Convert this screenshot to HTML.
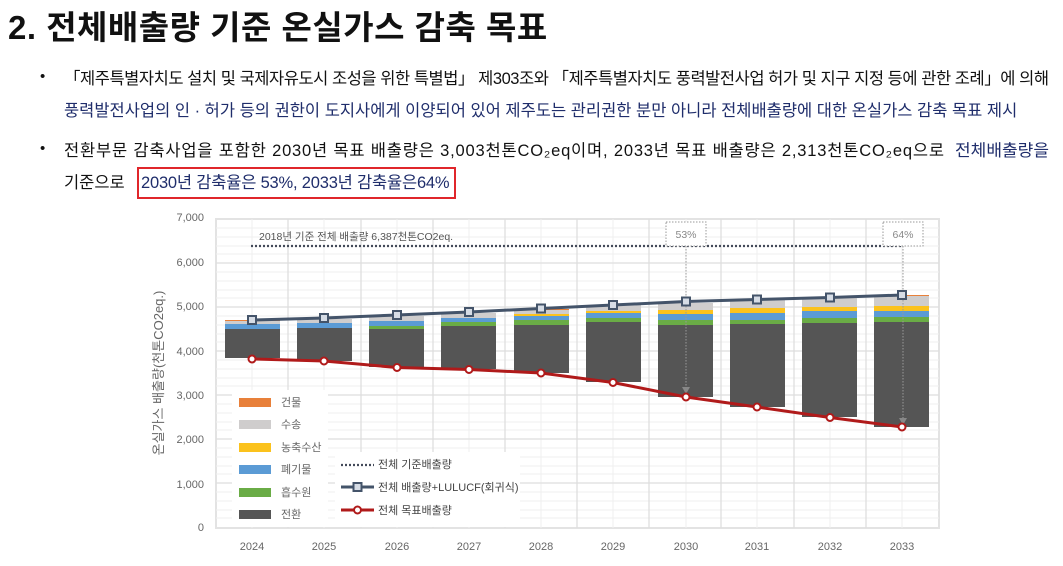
<!DOCTYPE html>
<html><head><meta charset="utf-8"><style>
html,body{margin:0;padding:0;background:#fff;}
body{width:1063px;height:566px;position:relative;overflow:hidden;font-family:"Liberation Sans","Noto Sans CJK KR",sans-serif;color:#111;}
.t{position:absolute;white-space:nowrap;}
.title{left:8px;top:1px;font-size:33px;font-weight:bold;color:#111;letter-spacing:0.5px;}
.l{font-size:16.5px;line-height:20px;}
.b{color:#1f2d6b;}
.dot{position:absolute;font-size:15px;}
</style></head><body>
<div class="t title">2. 전체배출량 기준 온실가스 감축 목표</div>
<div class="dot" style="left:40px;top:68px">•</div>
<div class="t l b" style="left:64px;top:101px">풍력발전사업의 인 · 허가 등의 권한이 도지사에게 이양되어 있어 제주도는 관리권한 분만 아니라 전체배출량에 대한 온실가스 감축 목표 제시</div>
<div class="dot" style="left:40px;top:140px">•</div>
<div class="t l" style="left:64px;top:173px">기준으로</div>
<div class="t l b" style="left:141px;top:173px;letter-spacing:-0.2px">2030년 감축율은 53%, 2033년 감축율은64%</div>
<div style="position:absolute;left:137px;top:167px;width:319px;height:32px;border:2px solid #e0262b;box-sizing:border-box"></div>

<svg width="1063" height="566" style="position:absolute;left:0;top:0" font-family="Liberation Sans, Noto Sans CJK KR, sans-serif">
<text x="64" y="84" font-size="16.5" fill="#111" textLength="985" lengthAdjust="spacing">「제주특별자치도 설치 및 국제자유도시 조성을 위한 특별법」 제303조와 「제주특별자치도 풍력발전사업 허가 및 지구 지정 등에 관한 조례」에 의해</text>
<text x="64" y="156" font-size="16.5" fill="#111" textLength="880" lengthAdjust="spacing">전환부문 감축사업을 포함한 2030년 목표 배출량은 3,003천톤CO₂eq이며, 2033년 목표 배출량은 2,313천톤CO₂eq으로</text>
<text x="955" y="156" font-size="16.5" fill="#1f2d6b" textLength="94" lengthAdjust="spacingAndGlyphs">전체배출량을</text>

<rect x="216" y="219" width="723" height="309" fill="#fff" stroke="#e3e3e3" stroke-width="2"/>
<g stroke="#efefef" stroke-width="1">
<line x1="216" x2="939" y1="228" y2="228"/><line x1="216" x2="939" y1="237" y2="237"/><line x1="216" x2="939" y1="246" y2="246"/><line x1="216" x2="939" y1="254" y2="254"/>
<line x1="216" x2="939" y1="272" y2="272"/><line x1="216" x2="939" y1="281" y2="281"/><line x1="216" x2="939" y1="290" y2="290"/><line x1="216" x2="939" y1="298" y2="298"/>
<line x1="216" x2="939" y1="316" y2="316"/><line x1="216" x2="939" y1="325" y2="325"/><line x1="216" x2="939" y1="334" y2="334"/><line x1="216" x2="939" y1="342" y2="342"/>
<line x1="216" x2="939" y1="360" y2="360"/><line x1="216" x2="939" y1="369" y2="369"/><line x1="216" x2="939" y1="378" y2="378"/><line x1="216" x2="939" y1="386" y2="386"/>
<line x1="216" x2="939" y1="404" y2="404"/><line x1="216" x2="939" y1="413" y2="413"/><line x1="216" x2="939" y1="422" y2="422"/><line x1="216" x2="939" y1="430" y2="430"/>
<line x1="216" x2="939" y1="448" y2="448"/><line x1="216" x2="939" y1="457" y2="457"/><line x1="216" x2="939" y1="466" y2="466"/><line x1="216" x2="939" y1="474" y2="474"/>
<line x1="216" x2="939" y1="492" y2="492"/><line x1="216" x2="939" y1="501" y2="501"/><line x1="216" x2="939" y1="510" y2="510"/><line x1="216" x2="939" y1="518" y2="518"/>
<line y1="219" y2="528" x1="252" x2="252"/><line y1="219" y2="528" x1="324" x2="324"/><line y1="219" y2="528" x1="397" x2="397"/><line y1="219" y2="528" x1="469" x2="469"/><line y1="219" y2="528" x1="541" x2="541"/><line y1="219" y2="528" x1="613" x2="613"/><line y1="219" y2="528" x1="686" x2="686"/><line y1="219" y2="528" x1="757" x2="757"/><line y1="219" y2="528" x1="830" x2="830"/><line y1="219" y2="528" x1="902" x2="902"/>
</g>
<g stroke="#dedede" stroke-width="1.3">
<line x1="216" x2="939" y1="263" y2="263"/><line x1="216" x2="939" y1="307" y2="307"/><line x1="216" x2="939" y1="351" y2="351"/><line x1="216" x2="939" y1="395" y2="395"/><line x1="216" x2="939" y1="439" y2="439"/><line x1="216" x2="939" y1="483" y2="483"/>
<line y1="219" y2="528" x1="288" x2="288"/><line y1="219" y2="528" x1="361" x2="361"/><line y1="219" y2="528" x1="433" x2="433"/><line y1="219" y2="528" x1="505" x2="505"/><line y1="219" y2="528" x1="577" x2="577"/><line y1="219" y2="528" x1="649" x2="649"/><line y1="219" y2="528" x1="721" x2="721"/><line y1="219" y2="528" x1="794" x2="794"/><line y1="219" y2="528" x1="866" x2="866"/>
</g>
<g font-size="11" fill="#666" text-anchor="end">
<text x="204" y="221">7,000</text><text x="204" y="266">6,000</text><text x="204" y="310">5,000</text><text x="204" y="355">4,000</text><text x="204" y="399">3,000</text><text x="204" y="443">2,000</text><text x="204" y="488">1,000</text><text x="204" y="531">0</text>
</g>
<text transform="translate(163,373) rotate(-90)" font-size="13" fill="#666" text-anchor="middle">온실가스 배출량(천톤CO2eq.)</text>
<g font-size="11" fill="#666" text-anchor="middle">
<text x="252" y="550">2024</text><text x="324" y="550">2025</text><text x="397" y="550">2026</text><text x="469" y="550">2027</text><text x="541" y="550">2028</text><text x="613" y="550">2029</text><text x="686" y="550">2030</text><text x="757" y="550">2031</text><text x="830" y="550">2032</text><text x="902" y="550">2033</text>
</g>
<g>
<rect x="225" y="320" width="55" height="1.5" fill="#e8803a"/><rect x="225" y="321" width="55" height="3" fill="#cfcdcd"/><rect x="225" y="324" width="55" height="5" fill="#5b9bd5"/><rect x="225" y="329" width="55" height="29" fill="#555"/>
<rect x="297" y="319" width="55" height="4" fill="#cfcdcd"/><rect x="297" y="323" width="55" height="5" fill="#5b9bd5"/><rect x="297" y="328" width="55" height="33" fill="#555"/>
<rect x="369" y="316" width="55" height="5" fill="#cfcdcd"/><rect x="369" y="321" width="55" height="5" fill="#5b9bd5"/><rect x="369" y="326" width="55" height="3" fill="#6aac46"/><rect x="369" y="329" width="55" height="38" fill="#555"/>
<rect x="441" y="313" width="55" height="5" fill="#cfcdcd"/><rect x="441" y="318" width="55" height="4" fill="#5b9bd5"/><rect x="441" y="322" width="55" height="4" fill="#6aac46"/><rect x="441" y="326" width="55" height="43" fill="#555"/>
<rect x="514" y="309" width="55" height="1.5" fill="#e8803a"/><rect x="514" y="310" width="55" height="4" fill="#cfcdcd"/><rect x="514" y="314" width="55" height="2" fill="#fbc21d"/><rect x="514" y="316" width="55" height="4" fill="#5b9bd5"/><rect x="514" y="320" width="55" height="5" fill="#6aac46"/><rect x="514" y="325" width="55" height="48" fill="#555"/>
<rect x="586" y="305" width="55" height="6" fill="#cfcdcd"/><rect x="586" y="311" width="55" height="2" fill="#fbc21d"/><rect x="586" y="313" width="55" height="5" fill="#5b9bd5"/><rect x="586" y="318" width="55" height="4" fill="#6aac46"/><rect x="586" y="322" width="55" height="60" fill="#555"/>
<rect x="658" y="303" width="55" height="7" fill="#cfcdcd"/><rect x="658" y="310" width="55" height="4" fill="#fbc21d"/><rect x="658" y="314" width="55" height="6" fill="#5b9bd5"/><rect x="658" y="320" width="55" height="5" fill="#6aac46"/><rect x="658" y="325" width="55" height="72" fill="#555"/>
<rect x="730" y="299" width="55" height="9" fill="#cfcdcd"/><rect x="730" y="308" width="55" height="5" fill="#fbc21d"/><rect x="730" y="313" width="55" height="7" fill="#5b9bd5"/><rect x="730" y="320" width="55" height="4" fill="#6aac46"/><rect x="730" y="324" width="55" height="83" fill="#555"/>
<rect x="802" y="297" width="55" height="10" fill="#cfcdcd"/><rect x="802" y="307" width="55" height="4" fill="#fbc21d"/><rect x="802" y="311" width="55" height="7" fill="#5b9bd5"/><rect x="802" y="318" width="55" height="5" fill="#6aac46"/><rect x="802" y="323" width="55" height="94" fill="#555"/>
<rect x="874" y="295" width="55" height="1.5" fill="#e8803a"/><rect x="874" y="296" width="55" height="10" fill="#cfcdcd"/><rect x="874" y="306" width="55" height="5" fill="#fbc21d"/><rect x="874" y="311" width="55" height="6" fill="#5b9bd5"/><rect x="874" y="317" width="55" height="5" fill="#6aac46"/><rect x="874" y="322" width="55" height="105" fill="#555"/>
</g>
<line x1="251" x2="902" y1="246" y2="246" stroke="#444b5a" stroke-width="2.2" stroke-dasharray="2,2"/>
<text x="259" y="240" font-size="10.5" fill="#555">2018년 기준 전체 배출량 6,387천톤CO2eq.</text>
<rect x="666" y="222" width="40" height="24" fill="#fff" stroke="#999" stroke-dasharray="1.5,1.5"/>
<text x="686" y="238" font-size="10.5" fill="#888" text-anchor="middle">53%</text>
<rect x="883" y="222" width="40" height="24" fill="#fff" stroke="#999" stroke-dasharray="1.5,1.5"/>
<text x="903" y="238" font-size="10.5" fill="#888" text-anchor="middle">64%</text>
<line x1="686" x2="686" y1="246" y2="390" stroke="#999" stroke-dasharray="1.5,1.5"/>
<polygon points="682,387 690,387 686,394" fill="#888"/>
<line x1="903" x2="903" y1="246" y2="420" stroke="#999" stroke-dasharray="1.5,1.5"/>
<polygon points="899,418 907,418 903,425" fill="#888"/>
<polyline points="252,320 324,318 397,315 469,312 541,308.5 613,305 686,301.5 757,299.5 830,297.5 902,295" fill="none" stroke="#44546a" stroke-width="3"/>
<g fill="#d6dce5" stroke="#44546a" stroke-width="2">
<rect x="248" y="316" width="8" height="8"/><rect x="320" y="314" width="8" height="8"/><rect x="393" y="311" width="8" height="8"/><rect x="465" y="308" width="8" height="8"/><rect x="537" y="304.5" width="8" height="8"/><rect x="609" y="301" width="8" height="8"/><rect x="682" y="297.5" width="8" height="8"/><rect x="753" y="295.5" width="8" height="8"/><rect x="826" y="293.5" width="8" height="8"/><rect x="898" y="291" width="8" height="8"/>
</g>
<polyline points="252,359 324,361 397,367.5 469,369.5 541,373 613,382.5 686,397 757,407 830,417.5 902,427" fill="none" stroke="#b01a1a" stroke-width="3"/>
<g fill="#fff" stroke="#b01a1a" stroke-width="2">
<circle cx="252" cy="359" r="3.5"/><circle cx="324" cy="361" r="3.5"/><circle cx="397" cy="367.5" r="3.5"/><circle cx="469" cy="369.5" r="3.5"/><circle cx="541" cy="373" r="3.5"/><circle cx="613" cy="382.5" r="3.5"/><circle cx="686" cy="397" r="3.5"/><circle cx="757" cy="407" r="3.5"/><circle cx="830" cy="417.5" r="3.5"/><circle cx="902" cy="427" r="3.5"/>
</g>
<rect x="232" y="390" width="96" height="137" fill="#fff"/>
<rect x="239" y="398" width="32" height="9" fill="#e8803a"/><rect x="239" y="420" width="32" height="9" fill="#cfcdcd"/><rect x="239" y="443" width="32" height="9" fill="#fbc21d"/><rect x="239" y="465" width="32" height="9" fill="#5b9bd5"/><rect x="239" y="488" width="32" height="9" fill="#6aac46"/><rect x="239" y="510" width="32" height="9" fill="#555"/>
<g font-size="11" fill="#666">
<text x="281" y="406">건물</text><text x="281" y="428">수송</text><text x="281" y="451">농축수산</text><text x="281" y="473">폐기물</text><text x="281" y="496">흡수원</text><text x="281" y="518">전환</text>
</g>
<rect x="335" y="452" width="185" height="75" fill="#fff"/>
<line x1="341" x2="374" y1="465" y2="465" stroke="#444b5a" stroke-width="2.2" stroke-dasharray="2,2"/>
<line x1="341" x2="374" y1="487" y2="487" stroke="#44546a" stroke-width="3"/><rect x="353.5" y="483" width="8" height="8" fill="#d6dce5" stroke="#44546a" stroke-width="2"/>
<line x1="341" x2="374" y1="510" y2="510" stroke="#b01a1a" stroke-width="3"/><circle cx="357.5" cy="510" r="3.5" fill="#fff" stroke="#b01a1a" stroke-width="2"/>
<g font-size="11" fill="#444">
<text x="378" y="468">전체 기준배출량</text><text x="378" y="491">전체 배출량+LULUCF(회귀식)</text><text x="378" y="514">전체 목표배출량</text>
</g>
</svg>
</body></html>
